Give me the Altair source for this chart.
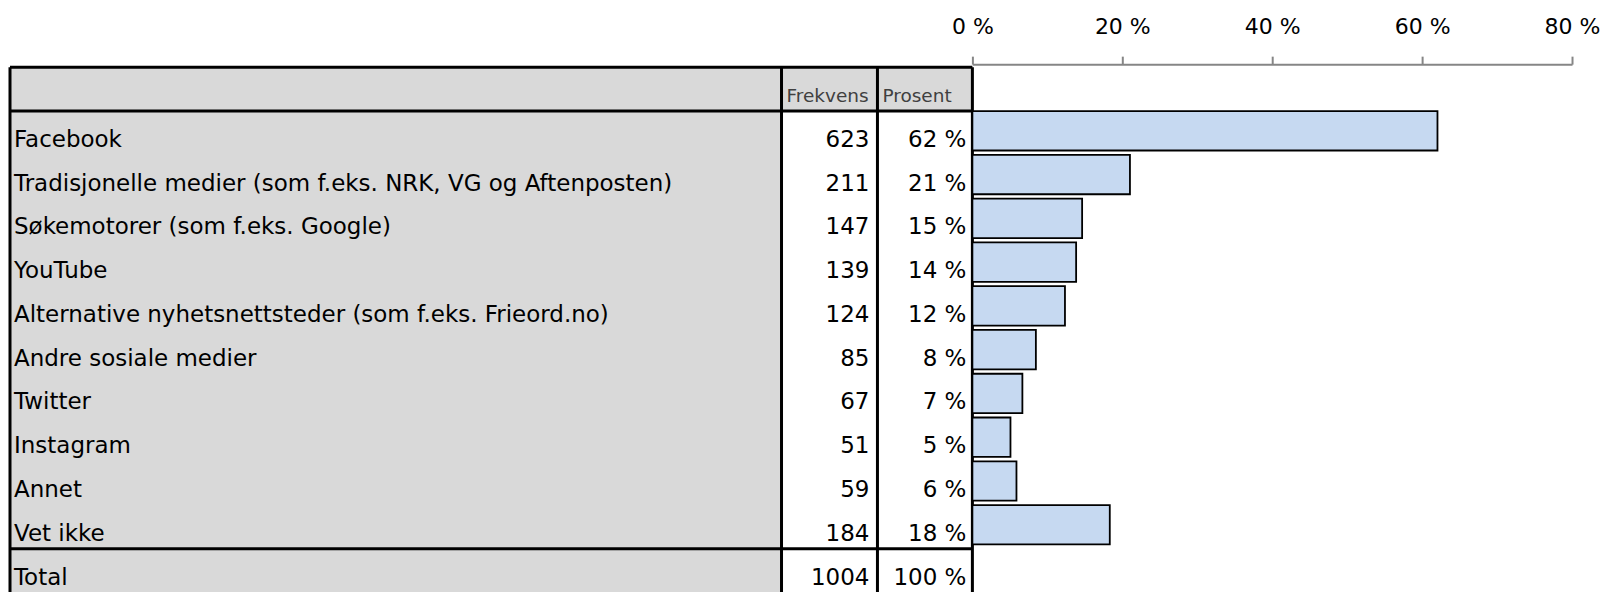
import altair as alt
import pandas as pd

categories = [
    "Facebook",
    "Tradisjonelle medier (som f.eks. NRK, VG og Aftenposten)",
    "Søkemotorer (som f.eks. Google)",
    "YouTube",
    "Alternative nyhetsnettsteder (som f.eks. Frieord.no)",
    "Andre sosiale medier",
    "Twitter",
    "Instagram",
    "Annet",
    "Vet ikke",
]
frekvens = [623, 211, 147, 139, 124, 85, 67, 51, 59, 184]
prosent = [0.6205, 0.2102, 0.1464, 0.1384, 0.1235, 0.0847, 0.0667, 0.0508, 0.0588, 0.1833]
prosent_labels = ["62 %", "21 %", "15 %", "14 %", "12 %", "8 %", "7 %", "5 %", "6 %", "18 %"]
total_label = "Total"
total_frekvens = 1004
total_prosent_label = "100 %"
header_labels = ["Frekvens", "Prosent"]
axis_ticks = [0, 0.2, 0.4, 0.6, 0.8]

FONT = "DejaVu Sans"
FS = 23
DY = 14
HEADER = "\u200b"
row_order = [HEADER] + categories + [total_label]
ROW_H = 43.8
H = ROW_H * len(row_order)
LEFT_W = 963
COL_EDGES = [0, 772, 868, 963]
BAR_W = 600

ysc = alt.Scale(domain=row_order, paddingInner=0, paddingOuter=0)
xsc = alt.Scale(domain=[0, LEFT_W], nice=False, zero=False)

# grey label column (full height)
label_col = alt.Chart(pd.DataFrame({"x0": [COL_EDGES[0]], "x1": [COL_EDGES[1]]})).mark_rect(
    color="#D9D9D9", strokeWidth=0
).encode(
    x=alt.X("x0:Q", scale=xsc, axis=None),
    x2="x1:Q",
)
# grey header cells
hdr_bg = alt.Chart(pd.DataFrame({"row": [HEADER], "x0": [COL_EDGES[1]], "x1": [COL_EDGES[3]]})).mark_rect(
    color="#D9D9D9", strokeWidth=0
).encode(
    x=alt.X("x0:Q", scale=xsc, axis=None),
    x2="x1:Q",
    y=alt.Y("row:N", scale=ysc, axis=None),
)

label_df = pd.DataFrame({"row": categories + [total_label]})
labels = alt.Chart(label_df).mark_text(
    align="left", baseline="alphabetic", font=FONT, fontSize=FS, dy=DY, dx=4, color="#000000"
).encode(
    x=alt.datum(COL_EDGES[0], scale=xsc),
    y=alt.Y("row:N", scale=ysc, axis=None),
    text="row:N",
)

freq_df = pd.DataFrame({"row": categories + [total_label],
                        "txt": [str(v) for v in frekvens] + [str(total_frekvens)]})
freq_txt = alt.Chart(freq_df).mark_text(
    align="right", baseline="alphabetic", font=FONT, fontSize=FS, dy=DY, dx=-8, color="#000000"
).encode(
    x=alt.datum(COL_EDGES[2], scale=xsc),
    y=alt.Y("row:N", scale=ysc, axis=None),
    text="txt:N",
)

pct_df = pd.DataFrame({"row": categories + [total_label],
                       "txt": prosent_labels + [total_prosent_label]})
pct_txt = alt.Chart(pct_df).mark_text(
    align="right", baseline="alphabetic", font=FONT, fontSize=FS, dy=DY, dx=-6, color="#000000"
).encode(
    x=alt.datum(COL_EDGES[3], scale=xsc),
    y=alt.Y("row:N", scale=ysc, axis=None),
    text="txt:N",
)

hdr_df = pd.DataFrame({"row": [HEADER, HEADER], "x": [COL_EDGES[1], COL_EDGES[2]], "txt": header_labels})
hdr_txt = alt.Chart(hdr_df).mark_text(
    align="left", baseline="alphabetic", font=FONT, fontSize=18.5, dy=13, dx=5, color="#404040"
).encode(
    x=alt.X("x:Q", scale=xsc),
    y=alt.Y("row:N", scale=ysc, axis=None),
    text="txt:N",
)

vlines = alt.Chart(pd.DataFrame({"x": COL_EDGES})).mark_rule(color="#000000", strokeWidth=3).encode(
    x=alt.X("x:Q", scale=xsc),
)
hl_rows = [HEADER, categories[0], total_label]
hlines = alt.Chart(pd.DataFrame({"row": hl_rows})).mark_rule(color="#000000", strokeWidth=3).encode(
    y=alt.Y("row:N", scale=ysc, axis=None, bandPosition=0),
)

table = alt.layer(label_col, hdr_bg, labels, freq_txt, pct_txt, hdr_txt, vlines, hlines).properties(
    width=LEFT_W, height=H
)

bar_df = pd.DataFrame({"row": categories, "pct": prosent})
bars = alt.Chart(bar_df).mark_bar(
    color="#C6D9F1", stroke="#000000", strokeWidth=1.8, yOffset=-2
).encode(
    x=alt.X(
        "pct:Q",
        scale=alt.Scale(domain=[0, 0.8], nice=False),
        axis=alt.Axis(
            orient="top", values=axis_ticks, format=".0%", labelExpr="replace(datum.label, '%', ' %')",
            grid=False, domainColor="#868686", tickColor="#868686", domainWidth=2, tickWidth=2,
            tickSize=8, offset=3, labelFont=FONT, labelFontSize=22, labelColor="#000000",
            labelPadding=18, title=None, labelFlush=False,
        ),
    ),
    y=alt.Y("row:N", scale=alt.Scale(domain=row_order, paddingInner=0.1, paddingOuter=0.05), axis=None),
).properties(width=BAR_W, height=H)

chart = alt.hconcat(table, bars, spacing=0, bounds="flush").properties(
    padding={"left": 0, "top": 7, "right": 0, "bottom": 0}
).configure_view(stroke=None)

chart.save("out.html", embed_options={"renderer": "svg", "actions": False})
